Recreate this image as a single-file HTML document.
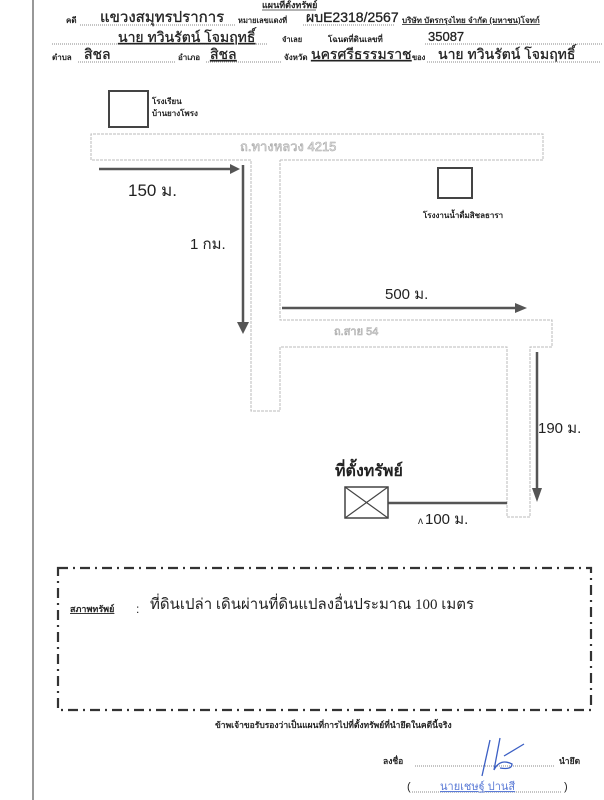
<!DOCTYPE html>
<html><head><meta charset="utf-8"><style>
html,body{margin:0;padding:0;background:#fff;}
svg{display:block;}
text{font-family:"Liberation Sans","Noto Sans CJK SC",sans-serif;fill:#222;}
.s{font-family:"Liberation Serif","Noto Serif CJK SC",serif;}
.h{stroke:#222;stroke-width:0.3;}
</style></head><body>
<svg width="604" height="800" viewBox="0 0 604 800" xmlns="http://www.w3.org/2000/svg">
<rect width="604" height="800" fill="#fff"/>
<line x1="33" y1="0" x2="33" y2="800" stroke="#777" stroke-width="1.5"/>

<!-- header -->
<text x="262" y="8" font-size="9" font-weight="bold">แผนที่ตั้งทรัพย์</text>
<line x1="262" y1="10" x2="316" y2="10" stroke="#333" stroke-width="0.8"/>
<text x="66" y="23" font-size="8" font-weight="bold">คดี</text>
<line x1="80" y1="25" x2="236" y2="25" stroke="#888" stroke-dasharray="1,1"/>
<text x="100" y="22" font-size="15" class="h">แขวงสมุทรปราการ</text>
<text x="238" y="23" font-size="7.5" font-weight="bold">หมายเลขแดงที่</text>
<line x1="303" y1="25" x2="395" y2="25" stroke="#888" stroke-dasharray="1,1"/>
<text x="306" y="22" font-size="14" class="h">ผบE2318/2567</text>
<text x="402" y="23" font-size="8" font-weight="bold" text-decoration="underline">บริษัท บัตรกรุงไทย จำกัด (มหาชน)โจทก์</text>

<line x1="52" y1="44" x2="268" y2="44" stroke="#888" stroke-dasharray="1,1"/>
<text x="118" y="42" font-size="14" text-decoration="underline" class="h">นาย ทวินรัตน์ โจมฤทธิ์</text>
<text x="282" y="42" font-size="7.5" font-weight="bold">จำเลย</text>
<text x="328" y="42" font-size="8" font-weight="bold">โฉนดที่ดินเลขที่</text>
<line x1="425" y1="44" x2="602" y2="44" stroke="#888" stroke-dasharray="1,1"/>
<text x="428" y="41" font-size="13" class="h">35087</text>

<text x="52" y="60" font-size="8" font-weight="bold">ตำบล</text>
<line x1="78" y1="62" x2="175" y2="62" stroke="#888" stroke-dasharray="1,1"/>
<text x="84" y="59" font-size="14" class="h">สิชล</text>
<text x="178" y="60" font-size="8" font-weight="bold">อำเภอ</text>
<line x1="206" y1="62" x2="282" y2="62" stroke="#888" stroke-dasharray="1,1"/>
<text x="210" y="59" font-size="14" text-decoration="underline" class="h">สิชล</text>
<text x="284" y="60" font-size="8" font-weight="bold">จังหวัด</text>
<text x="311" y="59" font-size="14" text-decoration="underline" class="h">นครศรีธรรมราช</text>
<text x="412" y="60" font-size="7.5" font-weight="bold">ของ</text>
<line x1="427" y1="62" x2="600" y2="62" stroke="#888" stroke-dasharray="1,1"/>
<text x="438" y="59" font-size="14" class="h">นาย ทวินรัตน์ โจมฤทธิ์</text>

<!-- school -->
<rect x="109" y="91" width="39" height="36" fill="none" stroke="#444" stroke-width="2"/>
<text x="152" y="104" font-size="8" font-weight="bold">โรงเรียน</text>
<text x="152" y="116" font-size="8" font-weight="bold">บ้านยางโพรง</text>

<!-- roads -->
<g fill="none" stroke="#bbb" stroke-width="1" stroke-dasharray="3,1">
<polyline points="280,160 543,160 543,134 91,134 91,160 251,160 251,411 280,411 280,347 507,347 507,517 530,517 530,347 552,347 552,320 280,320 280,160"/>
</g>
<text x="240" y="151" font-size="13" fill="#fff" style="fill:#f4f4f4" stroke="#aaa" stroke-width="0.6">ถ.ทางหลวง 4215</text>
<text x="334" y="335" font-size="11" style="fill:#f4f4f4" stroke="#aaa" stroke-width="0.6">ถ.สาย 54</text>

<!-- arrows -->
<g stroke="#555" stroke-width="2.5" fill="#555">
<line x1="99" y1="169" x2="233" y2="169"/>
<polygon points="230,164 240,169 230,174" stroke="none"/>
<line x1="243" y1="165" x2="243" y2="325"/>
<polygon points="237,322 243,334 249,322" stroke="none"/>
<line x1="282" y1="308" x2="518" y2="308"/>
<polygon points="515,303 527,308 515,313" stroke="none"/>
<line x1="537" y1="352" x2="537" y2="490"/>
<polygon points="532,488 537,502 542,488" stroke="none"/>
<line x1="388" y1="503" x2="507" y2="503"/>
</g>
<text x="128" y="196" font-size="17">150 ม.</text>
<text x="190" y="249" font-size="15">1 กม.</text>
<text x="385" y="299" font-size="15">500 ม.</text>
<text x="538" y="433" font-size="15">190 ม.</text>

<!-- factory -->
<rect x="438" y="168" width="34" height="30" fill="none" stroke="#444" stroke-width="2"/>
<text x="423" y="218" font-size="8" font-weight="bold">โรงงานน้ำดื่มสิชลธารา</text>

<!-- property -->
<text x="335" y="476" font-size="16" font-weight="bold">ที่ตั้งทรัพย์</text>
<rect x="345" y="487" width="43" height="31" fill="none" stroke="#444" stroke-width="1.5"/>
<line x1="345" y1="487" x2="388" y2="518" stroke="#444" stroke-width="1.2"/>
<line x1="388" y1="487" x2="345" y2="518" stroke="#444" stroke-width="1.2"/>
<text x="418" y="524" font-size="10">ᴧ</text>
<text x="425" y="524" font-size="15">100 ม.</text>

<!-- dash-dot box -->
<rect x="58" y="568" width="533" height="142" fill="none" stroke="#333" stroke-width="2.2" stroke-dasharray="10,5,2,5"/>
<text x="70" y="612" font-size="9" font-weight="bold" text-decoration="underline">สภาพทรัพย์</text>
<text x="136" y="613" font-size="12">:</text>
<text x="150" y="609" font-size="15" class="s">ที่ดินเปล่า เดินผ่านที่ดินแปลงอื่นประมาณ 100 เมตร</text>

<text x="215" y="728" font-size="8.5" font-weight="bold">ข้าพเจ้าขอรับรองว่าเป็นแผนที่การไปที่ตั้งทรัพย์ที่นำยึดในคดีนี้จริง</text>
<text x="383" y="764" font-size="8.5" font-weight="bold">ลงชื่อ</text>
<line x1="415" y1="766" x2="555" y2="766" stroke="#888" stroke-dasharray="1,1"/>
<text x="559" y="764" font-size="8.5" font-weight="bold">นำยึด</text>
<path d="M490 740 L482 776 M500 738 L494 770 Q500 758 512 764 Q512 770 500 768 M504 756 L524 744" fill="none" stroke="#3b5fc4" stroke-width="1.3"/>
<text x="407" y="790" font-size="11">(</text>
<line x1="412" y1="792" x2="562" y2="792" stroke="#888" stroke-dasharray="1,1"/>
<text x="440" y="790" font-size="11" text-decoration="underline" style="fill:#5b7bd6">นายเชษฐ์ ปานสี</text>
<text x="564" y="790" font-size="11">)</text>
</svg>
</body></html>
